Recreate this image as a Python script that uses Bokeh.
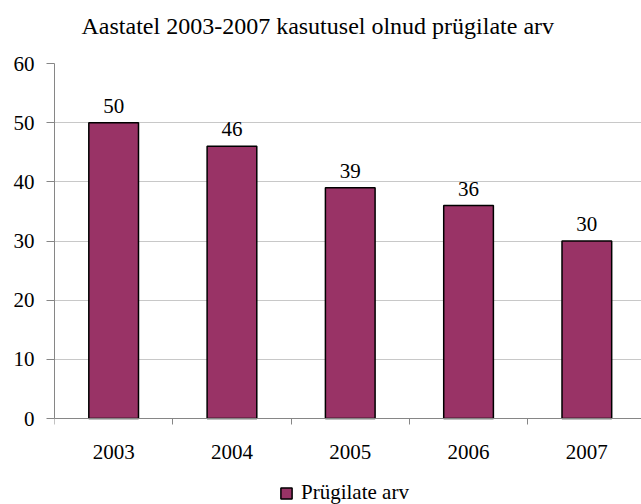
from bokeh.plotting import figure
from bokeh.models import (Range1d, FixedTicker, ColumnDataSource, Legend, LegendItem,
                          LinearAxis, Grid, Title)
from bokeh.core.properties import value
from bokeh.embed import file_html
from bokeh.resources import INLINE

years = ["2003", "2004", "2005", "2006", "2007"]
counts = [50, 46, 39, 36, 30]
series_name = "Prügilate arv"
title_text = "Aastatel 2003-2007 kasutusel olnud prügilate arv"
y_ticks = [0, 10, 20, 30, 40, 50, 60]

FONT = "Liberation Serif"
BAR = "#993366"

xs = [i + 0.5 for i in range(len(years))]
src = ColumnDataSource(dict(x=xs, top=counts, lab=[str(c) for c in counts]))

# frame reaches the bottom edge; value 0 sits 86px above it
p = figure(width=641, height=504, output_backend="svg", toolbar_location=None,
           x_range=Range1d(0, 4.962), y_range=Range1d(-14.535, 60),
           min_border_left=54, min_border_right=0, min_border_top=63,
           min_border_bottom=0, x_axis_type=None, y_axis_type=None)

p.outline_line_color = None
p.background_fill_color = "white"
p.border_fill_color = "white"

# titles (spacer closest to the frame, then the real title)
p.add_layout(Title(text=" ", text_font_size="1px", standoff=18), "above")
p.add_layout(Title(text=title_text, text_font=FONT, text_font_size="24px",
                   text_font_style="normal", text_color="black",
                   align="left", offset=27, standoff=8), "above")

# y axis
yaxis = LinearAxis(ticker=FixedTicker(ticks=y_ticks, minor_ticks=[]), bounds=(0, 60))
yaxis.axis_line_color = "#868686"
yaxis.major_tick_line_color = "#868686"
yaxis.major_tick_out = 8
yaxis.major_tick_in = 0
yaxis.minor_tick_line_color = None
yaxis.major_label_standoff = 12
yaxis.major_label_text_font = FONT
yaxis.major_label_text_font_size = "21px"
yaxis.major_label_text_color = "black"
p.add_layout(yaxis, "left")

# x axis, pinned at value 0
xaxis = LinearAxis(ticker=FixedTicker(ticks=xs, minor_ticks=list(range(len(years) + 1))),
                   fixed_location=0)
xaxis.major_label_overrides = {x: y for x, y in zip(xs, years)}
xaxis.axis_line_color = "#868686"
xaxis.major_tick_line_color = None
xaxis.major_tick_out = 6
xaxis.major_tick_in = 0
xaxis.minor_tick_line_color = "#868686"
xaxis.minor_tick_out = 6
xaxis.minor_tick_in = 0
xaxis.major_label_standoff = 20
xaxis.major_label_text_font = FONT
xaxis.major_label_text_font_size = "21px"
xaxis.major_label_text_color = "black"
p.add_layout(xaxis, "below")

p.ygrid.visible = False
p.xgrid.visible = False
p.add_layout(Grid(dimension=1, ticker=yaxis.ticker, grid_line_color="#c8c8c8", grid_line_width=1))

r = p.vbar(x="x", top="top", width=0.42, source=src, fill_color=BAR,
           line_color="black", line_width=1.5)

p.text(x="x", y="top", text="lab", source=src, text_align="center",
       text_baseline="alphabetic", y_offset=-17, text_font=value(FONT),
       text_font_size="21px", text_color="black")

legend = Legend(items=[LegendItem(label=series_name, renderers=[r])],
                location=(225, -1), orientation="horizontal",
                border_line_color=None, background_fill_alpha=0,
                padding=0, margin=0, glyph_width=14, glyph_height=14,
                label_standoff=8, label_text_font=FONT, label_text_color="black",
                label_text_font_size="21px", label_height=21)
p.add_layout(legend, "center")

open("out.html", "w").write(file_html(p, INLINE))
